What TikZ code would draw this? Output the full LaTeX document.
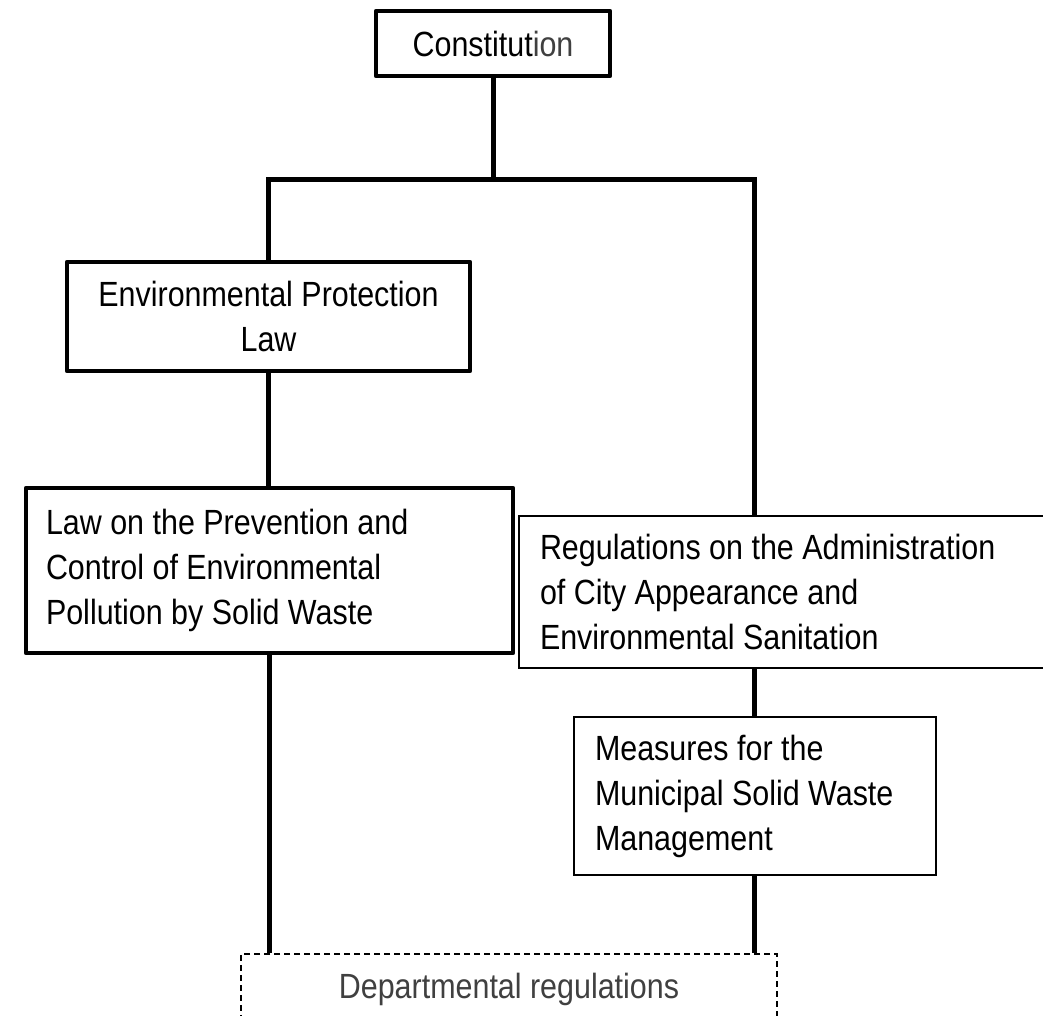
\documentclass[tikz,border=0pt]{standalone}
\usepackage{fontspec}
\setmainfont[FakeStretch=0.87]{Liberation Sans}
\definecolor{txtgray}{HTML}{404040}
\begin{document}
\begin{tikzpicture}[x=1pt,y=-1pt,
  boxfont/.style={font=\fontsize{35}{45}\selectfont},
  thickbox/.style={draw, line width=4.5pt, inner ysep=0pt, line join=round, boxfont},
  thinbox/.style={draw, line width=2pt, inner ysep=0pt, boxfont},
  deptbox/.style={draw, dash pattern=on 6pt off 4pt, line width=1.5pt, inner sep=0pt, text=txtgray, boxfont},
  conn/.style={line width=5pt}]
\useasboundingbox (0,0) rectangle (1043,1015);
\clip (0,0) rectangle (1043,1015);
\fill[white] (0,0) rectangle (1043,1015);

\node[thickbox, minimum width=234pt, minimum height=65pt] (const) at (493,43.5) {Constitut{\color{txtgray}ion}};
\node[thickbox, minimum width=403pt, minimum height=109pt, align=flush center] (epl) at (268.5,316.5) {Environmental Protection\\Law};
\node[thickbox, text width=447pt, inner xsep=20pt, minimum height=165pt, align=flush left] (law) at (269.5,570.5) {Law on the Prevention and\\Control of Environmental\\Pollution by Solid Waste};
\node[thinbox, text width=489pt, inner xsep=21pt, minimum height=152pt, align=flush left] (reg) at (784.5,592) {Regulations on the Administration\\of City Appearance and\\Environmental Sanitation};
\node[thinbox, text width=320pt, inner xsep=21pt, minimum height=158pt, align=flush left] (meas) at (755,796) {Measures for the\\Municipal Solid Waste\\Management};
\node[deptbox, minimum width=536pt, text height=45pt, text depth=42pt, anchor=north] (dept) at (509,953) {Departmental regulations};

\coordinate (busR) at (754,179);
\draw[conn] (const.south) -- (const.south |- busR);
\draw[conn] (epl.north) -- (epl.north |- busR) -- (busR) -- (busR |- reg.north);
\draw[conn] (epl.south) -- (epl.south |- law.north);
\draw[conn] (law.south) -- (law.south |- dept.north);
\draw[conn] (busR |- reg.south) -- (busR |- meas.north);
\draw[conn] (busR |- meas.south) -- (busR |- dept.north);
\end{tikzpicture}
\end{document}
